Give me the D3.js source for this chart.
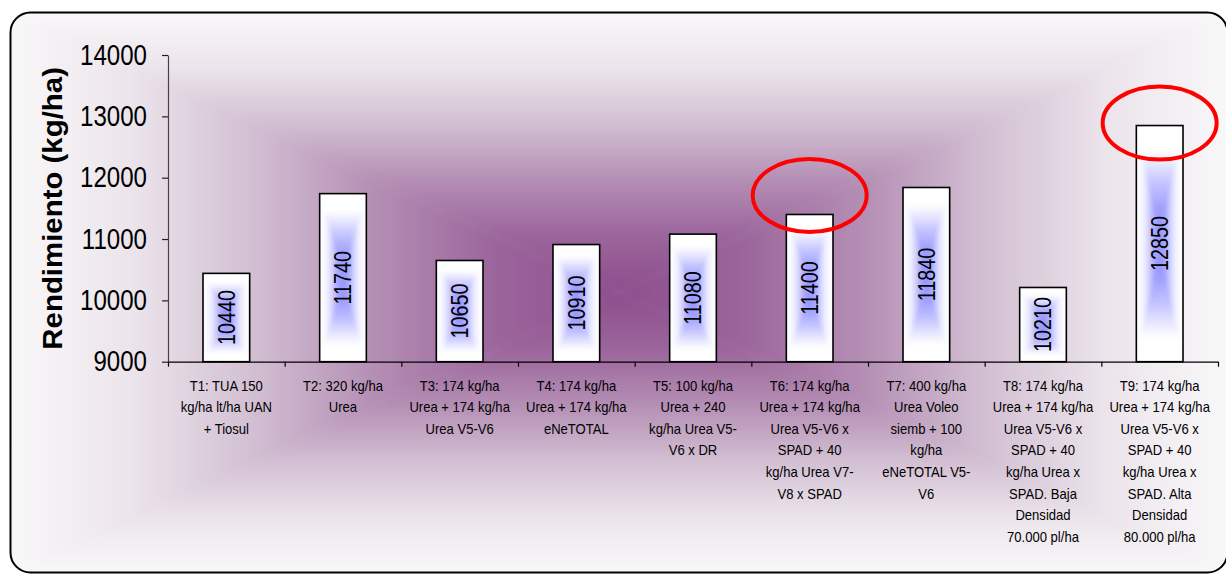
<!DOCTYPE html>
<html>
<head>
<meta charset="utf-8">
<script src="https://cdn.jsdelivr.net/npm/d3@7"></script>
<style>
  html, body { margin: 0; padding: 0; background: #ffffff; }
  svg { display: block; }
  text { font-family: Arial, "Liberation Sans", sans-serif; fill: #000; }
</style>
</head>
<body>
<svg id="chart" width="1226" height="574"></svg>
<script>
// ---- data ----
const categories = ["T1", "T2", "T3", "T4", "T5", "T6", "T7", "T8", "T9"];
const yields = [10440, 11740, 10650, 10910, 11080, 11400, 11840, 10210, 12850];
const categoryLines = [
  ["T1: TUA 150", "kg/ha lt/ha UAN", "+ Tiosul"],
  ["T2: 320 kg/ha", "Urea"],
  ["T3:  174 kg/ha", "Urea + 174 kg/ha", "Urea V5-V6"],
  ["T4: 174 kg/ha", "Urea + 174 kg/ha", "eNeTOTAL"],
  ["T5: 100 kg/ha", "Urea + 240", "kg/ha Urea V5-", "V6 x DR"],
  ["T6: 174 kg/ha", "Urea + 174 kg/ha", "Urea V5-V6 x", "SPAD + 40", "kg/ha Urea V7-", "V8 x SPAD"],
  ["T7: 400 kg/ha", "Urea Voleo", "siemb + 100", "kg/ha", "eNeTOTAL V5-", "V6"],
  ["T8: 174 kg/ha", "Urea + 174 kg/ha", "Urea V5-V6 x", "SPAD + 40", "kg/ha Urea x", "SPAD. Baja", "Densidad", "70.000 pl/ha"],
  ["T9: 174 kg/ha", "Urea + 174 kg/ha", "Urea V5-V6 x", "SPAD + 40", "kg/ha Urea x", "SPAD. Alta", "Densidad", "80.000 pl/ha"]
];
const yTicks = [9000, 10000, 11000, 12000, 13000, 14000];
const yTitle = "Rendimiento (kg/ha)";
// treatments circled in red, with the value at the ring's centre
const highlightCats = ["T6", "T9"];
const highlightLevels = [11710, 12890];

// ---- layout ----
const W = 1226, H = 574;
const frame = { x: 10.5, y: 12.5, w: 1217, h: 560, r: 20 };
const plot = { left: 168, right: 1218, top: 55, bottom: 361.7 };

const svg = d3.select("#chart");
const defs = svg.append("defs");

// squeeze text along its own direction
function squeeze(sel, factor) {
  sel.each(function () {
    const w = this.getComputedTextLength();
    d3.select(this).attr("textLength", w * factor).attr("lengthAdjust", "spacingAndGlyphs");
  });
}

defs.append("clipPath").attr("id", "frameClip")
  .append("rect")
  .attr("x", frame.x).attr("y", frame.y)
  .attr("width", frame.w).attr("height", frame.h)
  .attr("rx", frame.r).attr("ry", frame.r);

defs.append("filter").attr("id", "soft")
  .attr("x", "-5%").attr("y", "-5%").attr("width", "110%").attr("height", "110%")
  .append("feGaussianBlur").attr("stdDeviation", 3);
defs.append("filter").attr("id", "softBar")
  .attr("x", "-20%").attr("y", "-5%").attr("width", "140%").attr("height", "110%")
  .append("feGaussianBlur").attr("stdDeviation", 2.2);

// four triangles meeting at the centre, each shaded from centre to its edge;
// stopsTB shades the top/bottom wedges, stopsLR the side wedges
function rectGradient(group, idPrefix, x0, y0, x1, y1, stopsTB, stopsLR) {
  const cx = (x0 + x1) / 2, cy = (y0 + y1) / 2;
  const sides = [
    { id: "t", pts: [[x0, y0], [x1, y0], [cx, cy]], to: [cx, y0], stops: stopsTB },
    { id: "r", pts: [[x1, y0], [x1, y1], [cx, cy]], to: [x1, cy], stops: stopsLR },
    { id: "b", pts: [[x1, y1], [x0, y1], [cx, cy]], to: [cx, y1], stops: stopsTB },
    { id: "l", pts: [[x0, y1], [x0, y0], [cx, cy]], to: [x0, cy], stops: stopsLR }
  ];
  sides.forEach(s => {
    const g = defs.append("linearGradient")
      .attr("id", idPrefix + s.id)
      .attr("gradientUnits", "userSpaceOnUse")
      .attr("x1", cx).attr("y1", cy).attr("x2", s.to[0]).attr("y2", s.to[1]);
    s.stops.forEach(st => g.append("stop").attr("offset", st[0]).attr("stop-color", st[1]));
    const pts = s.pts.map(p => [p[0] + Math.sign(p[0] - cx) * 0.6, p[1] + Math.sign(p[1] - cy) * 0.6]);
    group.append("polygon")
      .attr("points", pts.map(p => p.join(",")).join(" "))
      .attr("fill", `url(#${idPrefix + s.id})`);
  });
}

// ---- frame background ----
const bgStops = [
  [0, "#8d4d8d"], [0.2, "#9b659b"], [0.4, "#b48eb4"],
  [0.6, "#d2bfd2"], [0.8, "#ebe4eb"], [1, "#f9f8f9"]
];
const bg = svg.append("g").attr("clip-path", "url(#frameClip)");
bg.append("rect").attr("x", 0).attr("y", 0).attr("width", W).attr("height", H).attr("fill", "#f9f8f9");
const bgInner = bg.append("g").attr("filter", "url(#soft)");
rectGradient(bgInner, "bg", frame.x, frame.y, frame.x + frame.w, frame.y + frame.h, bgStops, bgStops);

svg.append("rect")
  .attr("x", frame.x).attr("y", frame.y)
  .attr("width", frame.w).attr("height", frame.h)
  .attr("rx", frame.r).attr("ry", frame.r)
  .attr("fill", "none").attr("stroke", "#000").attr("stroke-width", 2);

// ---- scales ----
const x = d3.scaleBand().domain(categories)
  .range([plot.left, plot.right]).paddingInner(0.6).paddingOuter(0.3);
const xEdges = d3.scaleLinear().domain([0, categories.length]).range([plot.left, plot.right]);
const y = d3.scaleLinear().domain([9000, 14000]).range([plot.bottom, plot.top]);

// ---- bars ----
const barStopsTB = [[0, "#8c8cff"], [0.3, "#a0a0ff"], [0.5, "#c2c2ff"], [0.68, "#e8e8ff"], [0.8, "#ffffff"], [1, "#ffffff"]];
const barStopsLR = [[0, "#8c8cff"], [0.25, "#a8a8ff"], [0.5, "#d8d8ff"], [0.72, "#f5f5ff"], [1, "#ffffff"]];
const bars = svg.append("g");
categories.forEach((c, i) => {
  const x0 = x(c), x1 = x(c) + x.bandwidth();
  const y0 = y(yields[i]), y1 = y(9000);
  defs.append("clipPath").attr("id", "barClip" + i)
    .append("rect").attr("x", x0).attr("y", y0).attr("width", x1 - x0).attr("height", y1 - y0);
  const g = bars.append("g");
  g.append("rect").attr("x", x0).attr("y", y0).attr("width", x1 - x0).attr("height", y1 - y0).attr("fill", "#fff");
  const shade = g.append("g").attr("clip-path", `url(#barClip${i})`)
    .append("g").attr("filter", "url(#softBar)");
  rectGradient(shade, "bar" + i, x0, y0, x1, y1, barStopsTB, barStopsLR);
  g.append("rect").attr("x", x0).attr("y", y0).attr("width", x1 - x0).attr("height", y1 - y0)
    .attr("fill", "none").attr("stroke", "#000").attr("stroke-width", 1.6);
});

// value labels, vertical
svg.append("g").selectAll("text").data(categories).join("text")
  .attr("transform", (c, i) => `translate(${x(c) + x.bandwidth() / 2},${(y(yields[i]) + y(9000)) / 2}) rotate(-90)`)
  .attr("text-anchor", "middle").attr("dy", "0.36em")
  .style("font-size", "23px")
  .text((c, i) => yields[i])
  .call(squeeze, 0.86);

// ---- axes ----
const yAxis = svg.append("g").attr("transform", `translate(${plot.left},0)`)
  .call(d3.axisLeft(y).tickValues(yTicks).tickFormat(d3.format("d"))
    .tickSize(6).tickSizeOuter(0).tickPadding(15));
yAxis.select(".domain").attr("stroke", "#444").attr("stroke-width", 1.2);
yAxis.selectAll(".tick line").attr("stroke", "#222").attr("stroke-width", 1.2);
yAxis.selectAll(".tick text").style("font-size", "29px").attr("font-family", null).attr("fill", "#000")
  .call(squeeze, 0.83);

const xAxis = svg.append("g").attr("transform", `translate(0,${plot.bottom})`)
  .call(d3.axisBottom(xEdges).tickValues(d3.range(categories.length + 1))
    .tickSize(5).tickSizeOuter(0).tickFormat(""));
xAxis.select(".domain").attr("stroke", "#000").attr("stroke-width", 1.2);
xAxis.selectAll(".tick line").attr("stroke", "#000").attr("stroke-width", 1.2);

// category labels, several lines each
const catG = svg.append("g");
categories.forEach((c, i) => {
  const cxp = x(c) + x.bandwidth() / 2;
  catG.append("g").selectAll("text").data(categoryLines[i]).join("text")
    .attr("x", cxp).attr("y", (d, k) => 390.5 + k * 21.65)
    .attr("text-anchor", "middle")
    .style("font-size", "14.5px")
    .text(d => d)
    .call(squeeze, 0.9);
});

// axis title
svg.append("text")
  .attr("transform", `translate(62,${(plot.top + plot.bottom) / 2}) rotate(-90)`)
  .attr("text-anchor", "middle")
  .style("font-size", "28px").style("font-weight", "bold")
  .text(yTitle)
  .call(squeeze, 1.05);

// ---- red rings ----
svg.append("g").selectAll("ellipse").data(highlightCats).join("ellipse")
  .attr("cx", c => x(c) + x.bandwidth() / 2)
  .attr("cy", (c, i) => y(highlightLevels[i]))
  .attr("rx", 57).attr("ry", 36.5)
  .attr("fill", "none").attr("stroke", "#ff0000").attr("stroke-width", 4);
</script>
</body>
</html>
